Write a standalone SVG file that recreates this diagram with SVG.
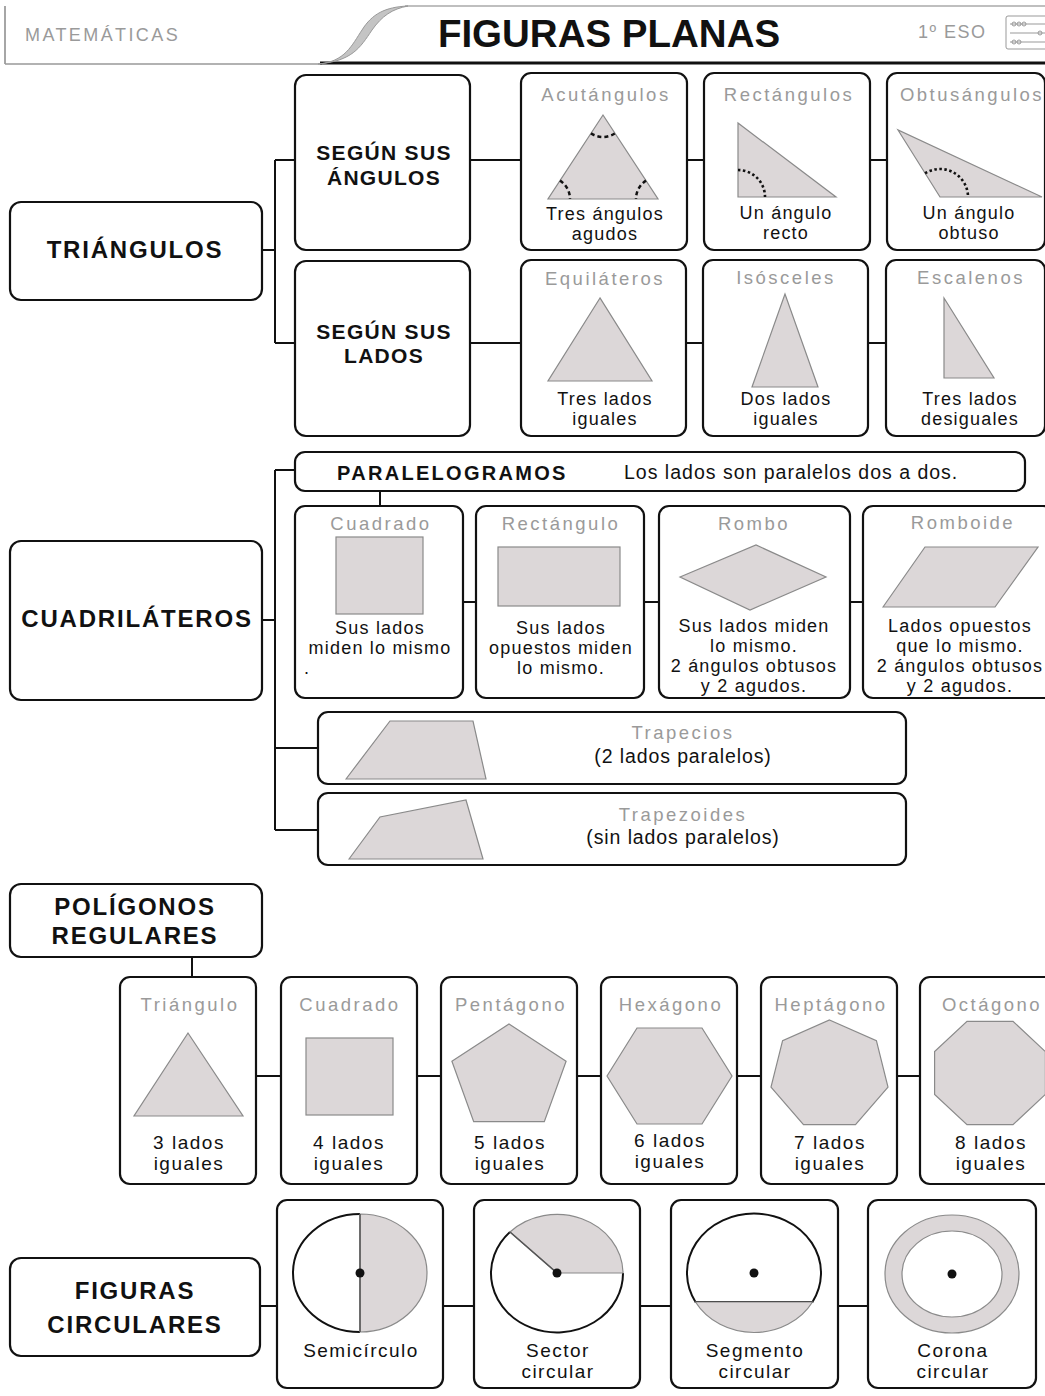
<svg xmlns="http://www.w3.org/2000/svg" width="1045" height="1396" viewBox="0 0 1045 1396">
<style>
text{font-family:"Liberation Sans",Arial,sans-serif;}
.box{fill:#fff;stroke:#111;stroke-width:2.2;}
.big{font-weight:bold;font-size:24px;letter-spacing:1.8px;fill:#111;text-anchor:middle;}
.mid{font-weight:bold;font-size:21px;letter-spacing:1.3px;fill:#111;text-anchor:middle;}
.lab{font-size:18.5px;letter-spacing:2.5px;fill:#9a9a9a;text-anchor:middle;}
.txt{font-size:18px;letter-spacing:1.2px;fill:#111;text-anchor:middle;}
.one{font-size:19.5px;letter-spacing:0.9px;fill:#111;text-anchor:middle;}
.ptx{font-size:19px;letter-spacing:1.5px;fill:#111;text-anchor:middle;}
.shp{fill:#dcd7d8;stroke:#8a8a8a;stroke-width:1.2;}
.con{fill:none;stroke:#111;stroke-width:2;}
.dash{fill:none;stroke:#111;stroke-width:2.5;stroke-dasharray:4 3;}
.dot{fill:none;stroke:#111;stroke-width:2.6;stroke-dasharray:2.5 2.5;}
</style>

<!-- header -->
<g id="header">
<line x1="5" y1="6" x2="5" y2="64" stroke="#888" stroke-width="1.5"/>
<line x1="5" y1="64" x2="322" y2="64" stroke="#999" stroke-width="1.5"/>
<line x1="320" y1="63" x2="1045" y2="63" stroke="#111" stroke-width="3"/>
<line x1="405" y1="6" x2="1045" y2="6" stroke="#aaa" stroke-width="1.5"/>
<path d="M318,64 C345,62 352,45 362,30 C372,14 385,7 408,6 C392,9 382,16 372,30 C360,48 352,61 318,64 Z" fill="#c4c4c4" stroke="#999" stroke-width="1"/>
<text x="25" y="41" font-size="18" letter-spacing="2.4" fill="#9a9a9a">MATEMÁTICAS</text>
<text x="609" y="47" font-size="38.5" font-weight="bold" fill="#111" text-anchor="middle">FIGURAS PLANAS</text>
<text x="918" y="38" font-size="18" letter-spacing="1.5" fill="#9a9a9a">1º ESO</text>
<g id="icon" stroke="#999" fill="none" stroke-width="1">
<rect x="1006" y="16" width="45" height="33" rx="2"/>
<line x1="1010" y1="24" x2="1045" y2="24"/>
<line x1="1010" y1="33" x2="1045" y2="33"/>
<line x1="1010" y1="42" x2="1045" y2="42"/>
<circle cx="1014" cy="24" r="2"/><circle cx="1019" cy="24" r="2"/><circle cx="1024" cy="24" r="2"/>
<circle cx="1040" cy="33" r="2"/>
<circle cx="1014" cy="42" r="2"/><circle cx="1019" cy="42" r="2"/>
</g>
</g>

<!-- connectors -->
<g id="connectors" class="con">
<path d="M262,250 H275 M275,160 V343 M275,160 H295 M275,343 H295"/>
<path d="M470,160 H521 M687,160 H704 M870,160 H887"/>
<path d="M470,343 H521 M686,343 H703 M868,343 H886"/>
<path d="M262,620 H275 M275,470 V830 M275,470 H295 M275,748 H318 M275,830 H318"/>
<path d="M380,491 V506"/>
<path d="M463,602 H476 M644,602 H659 M850,602 H863"/>
<path d="M192,957 V977"/>
<path d="M256,1076 H281 M417,1076 H441 M577,1076 H601 M737,1076 H761 M897,1076 H920"/>
<path d="M260,1306 H277 M443,1306 H474 M640,1306 H671 M838,1306 H868"/>
</g>

<!-- TRIANGULOS -->
<g id="triangulos">
<rect class="box" x="10" y="202" width="252" height="98" rx="11"/>
<text class="big" x="135" y="258">TRIÁNGULOS</text>
</g>
<g id="segun-angulos">
<rect class="box" x="295" y="75" width="175" height="175" rx="11"/>
<text class="mid" x="384" y="160">SEGÚN SUS</text>
<text class="mid" x="384" y="185">ÁNGULOS</text>
</g>
<g id="segun-lados">
<rect class="box" x="295" y="261" width="175" height="175" rx="11"/>
<text class="mid" x="384" y="339">SEGÚN SUS</text>
<text class="mid" x="384" y="363">LADOS</text>
</g>

<g id="acutangulos">
<rect class="box" x="521" y="73" width="166" height="177" rx="10"/>
<text class="lab" x="606" y="101">Acutángulos</text>
<polygon class="shp" points="603,115 548,199 658,199"/>
<path class="dash" d="M591,133.4 A22,22 0 0,0 615,133.4"/>
<path class="dash" d="M560,180.6 A22,22 0 0,1 570,199"/>
<path class="dash" d="M646,180.6 A22,22 0 0,0 636,199"/>
<text class="txt" x="605" y="220">Tres ángulos</text>
<text class="txt" x="605" y="240">agudos</text>
</g>
<g id="rectangulos">
<rect class="box" x="704" y="73" width="166" height="177" rx="10"/>
<text class="lab" x="789" y="101">Rectángulos</text>
<polygon class="shp" points="738,123 738,197 836,197"/>
<path class="dot" d="M738,170 A27,27 0 0,1 765,197"/>
<text class="txt" x="786" y="219">Un ángulo</text>
<text class="txt" x="786" y="239">recto</text>
</g>
<g id="obtusangulos">
<rect class="box" x="887" y="73" width="158" height="177" rx="10"/>
<text class="lab" x="972" y="101">Obtusángulos</text>
<polygon class="shp" points="898,130 940,197 1042,197"/>
<path class="dot" d="M925.1,173.3 A28,28 0 0,1 968,197"/>
<text class="txt" x="969" y="219">Un ángulo</text>
<text class="txt" x="969" y="239">obtuso</text>
</g>

<g id="equilateros">
<rect class="box" x="521" y="260" width="165" height="176" rx="10"/>
<text class="lab" x="605" y="285">Equiláteros</text>
<polygon class="shp" points="600,298 548,381 652,381"/>
<text class="txt" x="605" y="405">Tres lados</text>
<text class="txt" x="605" y="425">iguales</text>
</g>
<g id="isosceles">
<rect class="box" x="703" y="260" width="165" height="176" rx="10"/>
<text class="lab" x="786" y="284">Isósceles</text>
<polygon class="shp" points="785,294 752,387 818,387"/>
<text class="txt" x="786" y="405">Dos lados</text>
<text class="txt" x="786" y="425">iguales</text>
</g>
<g id="escalenos">
<rect class="box" x="886" y="260" width="159" height="176" rx="10"/>
<text class="lab" x="971" y="284">Escalenos</text>
<polygon class="shp" points="944,298 944,378 994,378"/>
<text class="txt" x="970" y="405">Tres lados</text>
<text class="txt" x="970" y="425">desiguales</text>
</g>

<!-- CUADRILATEROS -->
<g id="cuadrilateros">
<rect class="box" x="10" y="541" width="252" height="159" rx="11"/>
<text class="big" x="137" y="627">CUADRILÁTEROS</text>
</g>
<g id="paralelogramos">
<rect class="box" x="295" y="452" width="730" height="39" rx="10"/>
<text x="337" y="480" font-size="20" font-weight="bold" letter-spacing="2.3" fill="#111">PARALELOGRAMOS</text>
<text x="624" y="479" font-size="19.5" letter-spacing="1" fill="#111">Los lados son paralelos dos a dos.</text>
</g>
<g id="cuadrado">
<rect class="box" x="295" y="506" width="168" height="192" rx="10"/>
<text class="lab" x="381" y="530">Cuadrado</text>
<rect class="shp" x="336" y="537" width="87" height="77"/>
<text class="txt" x="380" y="634">Sus lados</text>
<text class="txt" x="380" y="654">miden lo mismo</text>
<text class="txt" x="307" y="674">.</text>
</g>
<g id="rectangulo">
<rect class="box" x="476" y="506" width="168" height="192" rx="10"/>
<text class="lab" x="561" y="530">Rectángulo</text>
<rect class="shp" x="498" y="547" width="122" height="59"/>
<text class="txt" x="561" y="634">Sus lados</text>
<text class="txt" x="561" y="654">opuestos miden</text>
<text class="txt" x="561" y="674">lo mismo.</text>
</g>
<g id="rombo">
<rect class="box" x="659" y="506" width="191" height="192" rx="10"/>
<text class="lab" x="754" y="530">Rombo</text>
<polygon class="shp" points="680,577 756,545 826,577 750,610"/>
<text class="txt" x="754" y="632">Sus lados miden</text>
<text class="txt" x="754" y="652">lo mismo.</text>
<text class="txt" x="754" y="672">2 ángulos obtusos</text>
<text class="txt" x="754" y="692">y 2 agudos.</text>
</g>
<g id="romboide">
<rect class="box" x="863" y="506" width="190" height="192" rx="10"/>
<text class="lab" x="963" y="529">Romboide</text>
<polygon class="shp" points="883,607 925,547 1038,547 995,607"/>
<text class="txt" x="960" y="632">Lados opuestos</text>
<text class="txt" x="960" y="652">que lo mismo.</text>
<text class="txt" x="960" y="672">2 ángulos obtusos</text>
<text class="txt" x="960" y="692">y 2 agudos.</text>
</g>
<g id="trapecios">
<rect class="box" x="318" y="712" width="588" height="72" rx="10"/>
<polygon class="shp" points="346,779 390,721 473,721 486,779"/>
<text class="lab" x="683" y="739">Trapecios</text>
<text class="one" x="683" y="763">(2 lados paralelos)</text>
</g>
<g id="trapezoides">
<rect class="box" x="318" y="793" width="588" height="72" rx="10"/>
<polygon class="shp" points="349,859 380,817 466,800 483,859"/>
<text class="lab" x="683" y="821">Trapezoides</text>
<text class="one" x="683" y="844">(sin lados paralelos)</text>
</g>

<!-- POLIGONOS REGULARES -->
<g id="poligonos">
<rect class="box" x="10" y="884" width="252" height="73" rx="11"/>
<text class="big" x="135" y="915">POLÍGONOS</text>
<text class="big" x="135" y="944">REGULARES</text>
</g>
<g id="p-triangulo">
<rect class="box" x="120" y="977" width="136" height="207" rx="10"/>
<text class="lab" x="190" y="1011">Triángulo</text>
<polygon class="shp" points="188,1033 134,1116 243,1116"/>
<text class="ptx" x="189" y="1149">3 lados</text>
<text class="ptx" x="189" y="1170">iguales</text>
</g>
<g id="p-cuadrado">
<rect class="box" x="281" y="977" width="136" height="207" rx="10"/>
<text class="lab" x="350" y="1011">Cuadrado</text>
<rect class="shp" x="306" y="1038" width="87" height="77"/>
<text class="ptx" x="349" y="1149">4 lados</text>
<text class="ptx" x="349" y="1170">iguales</text>
</g>
<g id="p-pentagono">
<rect class="box" x="441" y="977" width="136" height="207" rx="10"/>
<text class="lab" x="511" y="1011">Pentágono</text>
<polygon class="shp" points="509,1024 566.1,1061.3 544.3,1121.7 473.7,1121.7 451.9,1061.3"/>
<text class="ptx" x="510" y="1149">5 lados</text>
<text class="ptx" x="510" y="1170">iguales</text>
</g>
<g id="p-hexagono">
<rect class="box" x="601" y="977" width="136" height="207" rx="10"/>
<text class="lab" x="671" y="1011">Hexágono</text>
<polygon class="shp" points="607,1076 637,1028 702,1028 732,1076 702,1124 637,1124"/>
<text class="ptx" x="670" y="1147">6 lados</text>
<text class="ptx" x="670" y="1168">iguales</text>
</g>
<g id="p-heptagono">
<rect class="box" x="761" y="977" width="136" height="207" rx="10"/>
<text class="lab" x="831" y="1011">Heptágono</text>
<polygon class="shp" points="829.5,1020 876.4,1040.7 888,1087.2 855.5,1124.6 803.5,1124.6 771,1087.2 782.6,1040.7"/>
<text class="ptx" x="830" y="1149">7 lados</text>
<text class="ptx" x="830" y="1170">iguales</text>
</g>
<g id="p-octagono">
<rect class="box" x="920" y="977" width="140" height="207" rx="10"/>
<text class="lab" x="992" y="1011">Octágono</text>
<polygon class="shp" points="1045.4,1094.4 1013,1124.7 967,1124.7 934.6,1094.4 934.6,1051.6 967,1021.3 1013,1021.3 1045.4,1051.6"/>
<text class="ptx" x="991" y="1149">8 lados</text>
<text class="ptx" x="991" y="1170">iguales</text>
</g>

<!-- FIGURAS CIRCULARES -->
<g id="circulares">
<rect class="box" x="10" y="1258" width="250" height="98" rx="11"/>
<text class="big" x="135" y="1299" font-size="27" letter-spacing="2.5">FIGURAS</text>
<text class="big" x="135" y="1333" font-size="27" letter-spacing="2.5">CIRCULARES</text>
</g>
<g id="semicirculo">
<rect class="box" x="277" y="1200" width="166" height="188" rx="10"/>
<path d="M360,1214 A67,59 0 0,0 360,1332" fill="#fff" stroke="#111" stroke-width="2"/>
<path d="M360,1214 A67,59 0 0,1 360,1332 Z" class="shp"/>
<line x1="360" y1="1214" x2="360" y2="1332" stroke="#555" stroke-width="1.5"/>
<circle cx="360" cy="1273" r="4.5" fill="#111"/>
<text class="ptx" x="361" y="1357">Semicírculo</text>
</g>
<g id="sector">
<rect class="box" x="474" y="1200" width="166" height="188" rx="10"/>
<path d="M510,1232 A66,59 0 1,0 623,1273" fill="#fff" stroke="#111" stroke-width="2"/>
<path d="M557,1273 L510,1232 A66,59 0 0,1 623,1273 Z" class="shp"/>
<line x1="557" y1="1273" x2="510" y2="1232" stroke="#555" stroke-width="1.5"/>
<circle cx="557" cy="1273" r="4.5" fill="#111"/>
<text class="ptx" x="558" y="1357">Sector</text>
<text class="ptx" x="558" y="1378">circular</text>
</g>
<g id="segmento">
<rect class="box" x="671" y="1200" width="167" height="188" rx="10"/>
<path d="M695.5,1302 A67,59.5 0 1,1 812.5,1302 Z" fill="#fff" stroke="#111" stroke-width="2"/>
<path d="M695.5,1302 A67,59.5 0 0,0 812.5,1302 Z" class="shp"/>
<circle cx="754" cy="1273" r="4.5" fill="#111"/>
<text class="ptx" x="755" y="1357">Segmento</text>
<text class="ptx" x="755" y="1378">circular</text>
</g>
<g id="corona">
<rect class="box" x="868" y="1200" width="168" height="188" rx="10"/>
<path d="M885,1274 A67,59 0 1,0 1019,1274 A67,59 0 1,0 885,1274 Z M902,1274 A50,43 0 1,1 1002,1274 A50,43 0 1,1 902,1274 Z" class="shp" fill-rule="evenodd"/>
<circle cx="952" cy="1274" r="4.5" fill="#111"/>
<text class="ptx" x="953" y="1357">Corona</text>
<text class="ptx" x="953" y="1378">circular</text>
</g>
</svg>
